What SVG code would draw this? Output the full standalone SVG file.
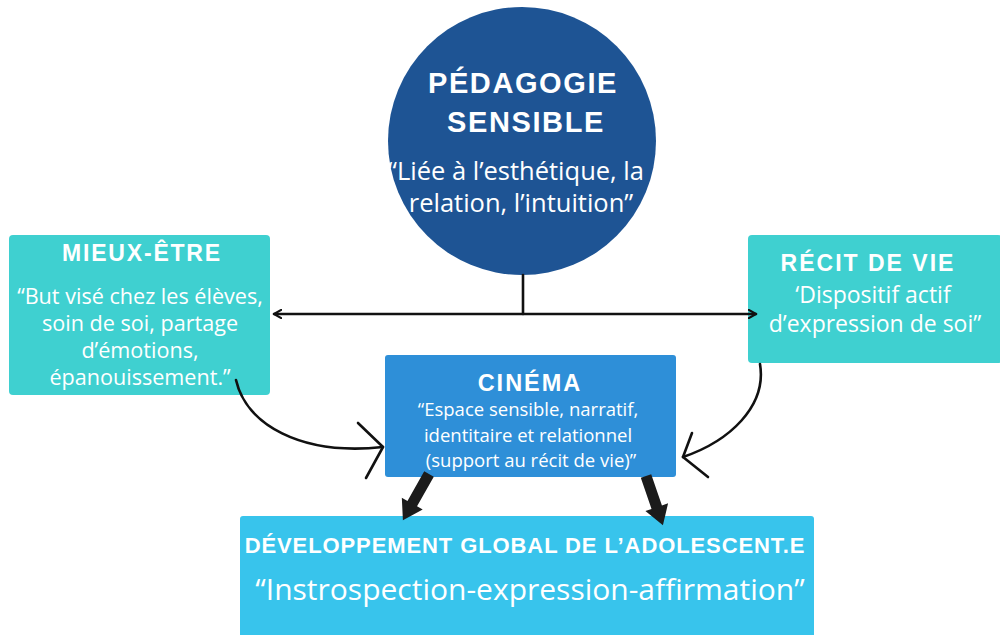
<svg xmlns="http://www.w3.org/2000/svg" width="1000" height="635" viewBox="0 0 1000 635">
  <defs>
    <marker id="chev" viewBox="0 0 10 10" refX="8" refY="5" markerWidth="4" markerHeight="4" orient="auto-start-reverse" markerUnits="strokeWidth">
      <path d="M1,1 L8,5 L1,9" fill="none" stroke="#111" stroke-width="2" stroke-linecap="round" stroke-linejoin="round"/>
    </marker>
  </defs>
  <style>
    .head { font-family: "Liberation Sans", Arial, sans-serif; font-weight: bold; fill: #ffffff; text-anchor: middle; }
    .body { font-family: "Open Sans", "Noto Sans", sans-serif; fill: #ffffff; text-anchor: middle; }
    .line { fill: none; stroke: #111; stroke-width: 2.6; stroke-linecap: round; }
    .curve { fill: none; stroke: #111; stroke-width: 2.6; stroke-linecap: round; stroke-linejoin: round; }
    .fat { fill: #1b1b1b; }
  </style>
  <rect width="1000" height="635" fill="#ffffff"/>

  <g id="pedagogie">
    <circle cx="522" cy="141" r="134" fill="#1e5494"/>
    <text class="head" x="523" y="93" font-size="29" letter-spacing="1.6">PÉDAGOGIE</text>
    <text class="head" x="526" y="132" font-size="29" letter-spacing="1.6">SENSIBLE</text>
    <text class="body" x="516" y="180" font-size="25.5">“Liée à l’esthétique, la</text>
    <text class="body" x="521" y="212" font-size="25.5">relation, l’intuition”</text>
  </g>

  <g id="mieux-etre">
    <rect x="9" y="235" width="261" height="160" rx="4" fill="#3fd0d0"/>
    <text class="head" x="142" y="261" font-size="23" letter-spacing="1.8">MIEUX-ÊTRE</text>
    <text class="body" x="140" y="304" font-size="21.6">“But visé chez les élèves,</text>
    <text class="body" x="140" y="331" font-size="21.6">soin de soi, partage</text>
    <text class="body" x="140" y="358" font-size="21.6">d’émotions,</text>
    <text class="body" x="140" y="385" font-size="21.6">épanouissement.”</text>
  </g>

  <g id="recit-de-vie">
    <rect x="748" y="235" width="254" height="128" rx="4" fill="#3fd0d0"/>
    <text class="head" x="868" y="271" font-size="23" letter-spacing="2">RÉCIT DE VIE</text>
    <text class="body" x="873" y="303" font-size="23">‘Dispositif actif</text>
    <text class="body" x="875" y="332" font-size="23">d’expression de soi”</text>
  </g>

  <g id="cinema">
    <rect x="385" y="355" width="291" height="122" rx="3" fill="#2e8fd8"/>
    <text class="head" x="530" y="391" font-size="23.5" letter-spacing="2">CINÉMA</text>
    <text class="body" x="528" y="416" font-size="18.5">“Espace sensible, narratif,</text>
    <text class="body" x="528" y="442" font-size="18.5">identitaire et relationnel</text>
    <text class="body" x="531" y="467" font-size="18.5">(support au récit de vie)”</text>
  </g>

  <g id="developpement">
    <rect x="240" y="516" width="574" height="125" rx="3" fill="#38c4ec"/>
    <text class="head" x="525" y="553" font-size="22" letter-spacing="0.9">DÉVELOPPEMENT GLOBAL DE L’ADOLESCENT.E</text>
    <text class="body" x="530" y="600" font-size="30">“Instrospection-expression-affirmation”</text>
  </g>

  <!-- connectors, drawn over the boxes -->
  <g id="connectors">
    <line class="line" x1="523" y1="275" x2="523" y2="314"/>
    <line class="line" x1="274" y1="314" x2="756" y2="314" marker-start="url(#chev)" marker-end="url(#chev)"/>
    <!-- hand-drawn curved arrows into the cinema box -->
    <path class="curve" d="M236,380 C246,424 300,456 383,447"/>
    <path class="curve" d="M358,423 L383,447 L366,478"/>
    <path class="curve" d="M760,364 C767,406 730,441 683,457"/>
    <path class="curve" d="M692,433 L683,457 L708,477"/>
    <!-- heavy arrows down to the development box -->
    <path class="fat" transform="translate(429,474) rotate(29.5)" d="M-5.5,0 L5.5,0 L5.5,34 L12,34 L0,53 L-12,34 L-5.5,34 Z"/>
    <path class="fat" transform="translate(646,476) rotate(-19)" d="M-5.5,0 L5.5,0 L5.5,33 L12,33 L0,52 L-12,33 L-5.5,33 Z"/>
  </g>
</svg>
